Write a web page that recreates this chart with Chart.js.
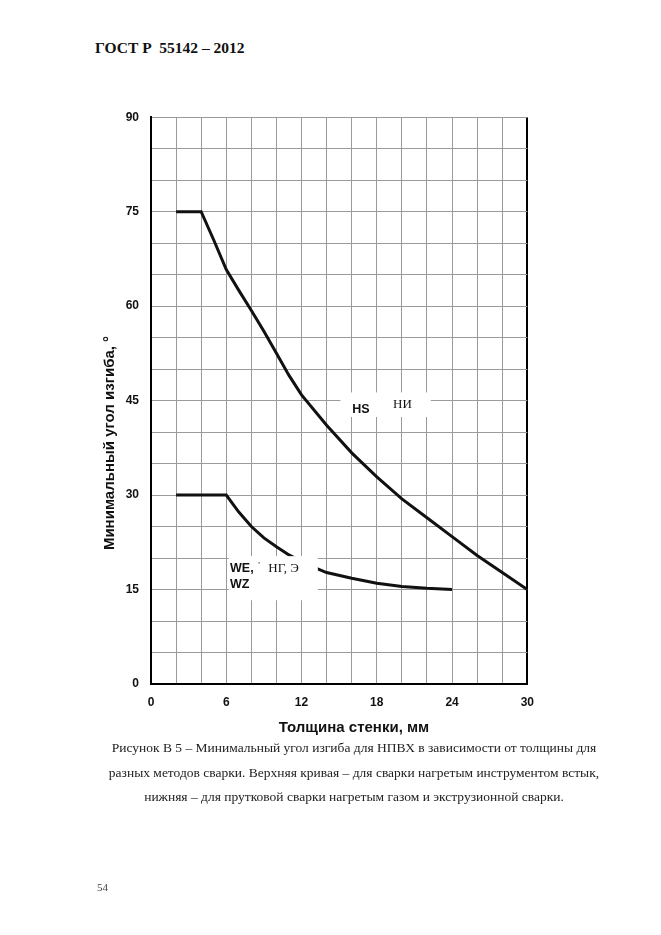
<!DOCTYPE html>
<html><head><meta charset="utf-8">
<script src="https://cdn.jsdelivr.net/npm/chart.js@4/dist/chart.umd.min.js"></script>
<style>
html,body{margin:0;padding:0;background:#fff;}
body{width:661px;height:935px;position:relative;overflow:hidden;}
#hdr{position:absolute;left:95px;top:39px;font:bold 15.5px "Liberation Serif";color:#111;white-space:pre;}
#wrap{position:absolute;left:95px;top:98px;width:450px;height:647px;}
#ytitle{position:absolute;left:108px;top:443px;transform:translate(-50%,-50%) rotate(-90deg);font:bold 15px "Liberation Sans";color:#111;white-space:nowrap;}
#xtitle{position:absolute;left:354px;top:726px;transform:translate(-50%,-50%);font:bold 15px "Liberation Sans";color:#111;white-space:nowrap;}
#cap{position:absolute;left:84px;width:540px;top:736px;text-align:center;font:13.5px/24.5px "Liberation Serif";color:#222;}
#pg{position:absolute;left:97px;top:881px;font:11px "Liberation Serif";color:#444;}
</style></head>
<body>
<div id="hdr">ГОСТ Р  55142 – 2012</div>
<div id="wrap"><canvas id="c"></canvas></div>
<div id="ytitle">Минимальный угол изгиба, °</div>
<div id="xtitle">Толщина стенки, мм</div>
<div id="cap">Рисунок В 5 – Минимальный угол изгиба для НПВХ в зависимости от толщины для<br>разных методов сварки. Верхняя кривая – для сварки нагретым инструментом встык,<br>нижняя – для прутковой сварки нагретым газом и экструзионной сварки.</div>
<div id="pg">54</div>
<script>
// Data
const upperX = [2, 4, 5, 6, 7, 8, 9, 10, 11, 12, 14, 16, 18, 20, 22, 24, 26, 28, 30];
const upperY = [75, 75, 70.5, 65.8, 62.5, 59.3, 56, 52.5, 49, 45.9, 41.1, 36.7, 32.9, 29.4, 26.4, 23.4, 20.4, 17.7, 15];
const lowerX = [2, 6, 7, 8, 9, 10, 11, 12, 13, 14, 16, 18, 20, 22, 24];
const lowerY = [30, 30, 27.3, 25, 23.2, 21.8, 20.5, 19.4, 18.5, 17.7, 16.8, 16.0, 15.5, 15.2, 15.0];
const xTickLabels = [0, 6, 12, 18, 24, 30];
const yTickLabels = [0, 15, 30, 45, 60, 75, 90];

const toPts = (xs, ys) => xs.map((v, i) => ({x: v, y: ys[i]}));

// white masks and curve labels (data coordinates)
const masks = [
  [6.2, 20.3, 13.3, 13.3],
  [15.1, 46.3, 22.3, 42.4]
];
const notes = [
  {t: 'WE,', x: 6.3, y: 17.8, f: 'bold 12.5px "Liberation Sans"'},
  {t: '\'', x: 8.55, y: 18.4, f: '9px "Liberation Serif"'},
  {t: 'НГ, Э', x: 9.35, y: 17.8, f: '13px "Liberation Serif"'},
  {t: 'WZ', x: 6.3, y: 15.2, f: 'bold 12.5px "Liberation Sans"'},
  {t: 'HS', x: 16.05, y: 43.0, f: 'bold 12.5px "Liberation Sans"'},
  {t: 'НИ', x: 19.3, y: 43.8, f: '13px "Liberation Serif"'}
];

const notePlugin = {
  id: 'notes',
  afterDatasetsDraw(chart) {
    const {ctx, scales: {x, y}} = chart;
    ctx.save();
    ctx.fillStyle = '#fff';
    masks.forEach(b => {
      const x0 = x.getPixelForValue(b[0]), y0 = y.getPixelForValue(b[1]);
      const x1 = x.getPixelForValue(b[2]), y1 = y.getPixelForValue(b[3]);
      ctx.fillRect(x0, y0, x1 - x0, y1 - y0);
    });
    ctx.fillStyle = '#111';
    ctx.textBaseline = 'alphabetic';
    ctx.textAlign = 'left';
    notes.forEach(n => {
      ctx.font = n.f;
      ctx.fillText(n.t, x.getPixelForValue(n.x), y.getPixelForValue(n.y));
    });
    ctx.restore();
  }
};

const tickFont = {family: '"Liberation Sans"', size: 12, weight: 'bold'};

new Chart(document.getElementById('c'), {
  type: 'line',
  data: {
    datasets: [
      {data: toPts(upperX, upperY), borderColor: '#111', borderWidth: 3, pointRadius: 0, tension: 0, fill: false},
      {data: toPts(lowerX, lowerY), borderColor: '#111', borderWidth: 3, pointRadius: 0, tension: 0, fill: false}
    ]
  },
  options: {
    responsive: true,
    maintainAspectRatio: false,
    animation: false,
    layout: {padding: 0},
    plugins: {legend: {display: false}, tooltip: {enabled: false}},
    scales: {
      x: {
        type: 'linear', min: 0, max: 30,
        afterFit: s => { s.height = 61; },
        border: {color: '#000', width: 2},
        grid: {
          drawTicks: false,
          color: c => (c.tick && c.tick.value === 30) ? '#000' : '#9a9a9a',
          lineWidth: c => (c.tick && c.tick.value === 30) ? 2 : 1
        },
        ticks: {
          stepSize: 2, autoSkip: false, maxRotation: 0, padding: 11,
          color: '#111', font: tickFont,
          callback: v => xTickLabels.includes(v) ? String(v) : ''
        }
      },
      y: {
        type: 'linear', min: 0, max: 90,
        afterFit: s => { s.width = 56; },
        border: {color: '#000', width: 2},
        grid: {drawTicks: false, color: '#9a9a9a', lineWidth: 1},
        ticks: {
          stepSize: 5, autoSkip: false, padding: 12,
          color: '#111', font: tickFont,
          callback: v => yTickLabels.includes(v) ? String(v) : ''
        }
      }
    }
  },
  plugins: [notePlugin]
});
</script>
</body></html>
